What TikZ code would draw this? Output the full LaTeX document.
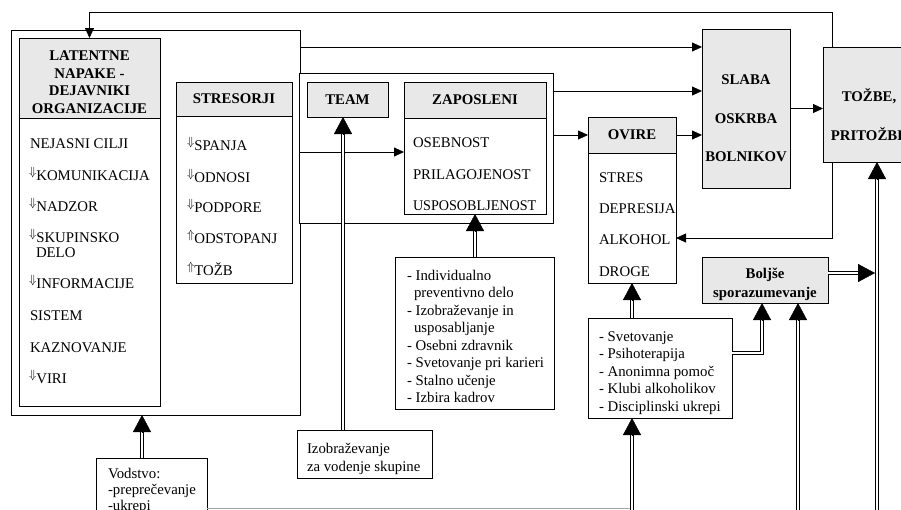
\documentclass[tikz,border=0pt]{standalone}
\usepackage{fontspec}
\setmainfont{Liberation Serif}
\usetikzlibrary{arrows.meta,calc}
\definecolor{hdrfill}{RGB}{232,232,232}
\newcommand\fs{\fontsize{14.8}{17.5}\selectfont}
\newcommand\dnarr{\raisebox{5pt}{\fontsize{12}{12}\selectfont$\Downarrow$}}
\newcommand\uparr{\raisebox{5pt}{\fontsize{12}{12}\selectfont$\Uparrow$}}
% double line ending in a large filled tip, pointing upwards onto #2
\newcommand\dblup[2]{%
  \draw[dline, shorten >=15pt] (#1) -- (#2);
  \draw[dtip] ($(#2)+(0,17)$) -- (#2);}
\begin{document}
\begin{tikzpicture}[x=1pt,y=-1pt,
  every node/.style={font=\fs, inner sep=0pt, outer sep=0pt},
  box/.style={draw, line width=0.8pt, fill=white, anchor=north west},
  hbox/.style={box, fill=hdrfill, font=\fs\bfseries},
  itm/.style={anchor=base west},
  ttl/.style={font=\fs\bfseries},
  sarr/.style={line width=0.8pt, -{Triangle[length=10pt,width=9pt]}},
  dline/.style={line width=0.75pt, double, double distance=1.8pt},
  dtip/.style={line width=0.4pt, -{Triangle[length=17pt,width=18pt]}},
]
\useasboundingbox (0,0) rectangle (901,509);
\clip (0,0) rectangle (901,509);

% organisation frame with latent errors and stressors
\node[box, minimum width=289pt, minimum height=385pt] (out) at (11,30) {};
\node[box, minimum width=141pt, minimum height=368pt] (lat) at (19,38) {};
\node[hbox, minimum width=141pt, minimum height=80pt] (lath) at (19,38) {};
\node[ttl, align=center] (latt) at (89.5,82) {LATENTNE\\NAPAKE -\\DEJAVNIKI\\ORGANIZACIJE};
\node[itm] (l1) at (30,148) {NEJASNI CILJI};
\node[itm] (l2) at (29,180) {\dnarr KOMUNIKACIJA};
\node[itm] (l3) at (29,211) {\dnarr NADZOR};
\node[itm] (l4) at (29,242) {\dnarr SKUPINSKO};
\node[itm] (l5) at (36,257) {DELO};
\node[itm] (l6) at (29,288) {\dnarr INFORMACIJE};
\node[itm] (l7) at (30,320) {SISTEM};
\node[itm] (l8) at (30,352) {KAZNOVANJE};
\node[itm] (l9) at (29,383) {\dnarr VIRI};

\node[box, minimum width=116pt, minimum height=201pt] (str) at (176,82) {};
\node[hbox, minimum width=116pt, minimum height=34pt] (strh) at (176,82) {STRESORJI};
\node[itm] (s1) at (187,150) {\dnarr SPANJA};
\node[itm] (s2) at (187,182) {\dnarr ODNOSI};
\node[itm] (s3) at (187,212) {\dnarr PODPORE};
\node[itm] (s4) at (187,243) {\uparr ODSTOPANJ};
\node[itm] (s5) at (187,275) {\uparr TOŽB};

% team and employees
\node[box, minimum width=254pt, minimum height=150pt] (mid) at (299,73) {};
\node[hbox, minimum width=81pt, minimum height=35pt] (team) at (307,82) {TEAM};
\node[box, minimum width=142pt, minimum height=132pt] (zap) at (404,82) {};
\node[hbox, minimum width=142pt, minimum height=36pt] (zaph) at (404,82) {ZAPOSLENI};
\node[itm] (z1) at (413,147) {OSEBNOST};
\node[itm] (z2) at (413,179) {PRILAGOJENOST};
\node[itm] (z3) at (413,210) {\scalebox{0.955}[1]{USPOSOBLJENOST}};

% obstacles
\node[box, minimum width=88pt, minimum height=166pt] (ovb) at (588,117) {};
\node[hbox, minimum width=88pt, minimum height=36pt] (ovh) at (588,117) {OVIRE};
\node[itm] (o1) at (599,182) {STRES};
\node[itm] (o2) at (599,213) {DEPRESIJA};
\node[itm] (o3) at (599,244) {ALKOHOL};
\node[itm] (o4) at (599,276) {DROGE};

% outcomes
\node[hbox, minimum width=88pt, minimum height=159pt] (slaba) at (702,29) {};
\node[ttl] (sl1) at (746,80) {SLABA};
\node[ttl] (sl2) at (746,119) {OSKRBA};
\node[ttl] (sl3) at (746,157) {BOLNIKOV};
\node[hbox, minimum width=95pt, minimum height=115pt] (tozbe) at (823,47) {};
\node[ttl] (tz1) at (869,96) {TOŽBE,};
\node[ttl] (tz2) at (869,134) {PRITOŽBE};

% measures
\node[box, minimum width=159pt, minimum height=152pt] (ind) at (395,257) {};
\node[itm] (i1) at (407,280) {- Individualno};
\node[itm] (i2) at (414,297.5) {preventivno delo};
\node[itm] (i3) at (407,315) {- Izobraževanje in};
\node[itm] (i4) at (414,332.5) {usposabljanje};
\node[itm] (i5) at (407,350) {- Osebni zdravnik};
\node[itm] (i6) at (407,367.5) {- Svetovanje pri karieri};
\node[itm] (i7) at (407,385) {- Stalno učenje};
\node[itm] (i8) at (407,402.5) {- Izbira kadrov};

\node[box, minimum width=144pt, minimum height=100pt] (sve) at (588,318) {};
\node[itm] (v1) at (599,341) {- Svetovanje};
\node[itm] (v2) at (599,358.5) {- Psihoterapija};
\node[itm] (v3) at (599,376) {- Anonimna pomoč};
\node[itm] (v4) at (599,393.5) {- Klubi alkoholikov};
\node[itm] (v5) at (599,411) {- Disciplinski ukrepi};

\node[box, minimum width=135pt, minimum height=48pt] (izo) at (297,430) {};
\node[itm] (iz1) at (307,453) {Izobraževanje};
\node[itm] (iz2) at (307,471) {za vodenje skupine};

\node[box, minimum width=111pt, minimum height=70pt] (vod) at (96,458) {};
\node[itm] (vd1) at (108,478) {Vodstvo:};
\node[itm] (vd2) at (108,494) {-preprečevanje};
\node[itm] (vd3) at (108,510) {-ukrepi};

\node[hbox, minimum width=126pt, minimum height=46pt] (bolj) at (702,257) {};
\node[ttl] (bj1) at (765,275) {Boljše};
\node[ttl] (bj2) at (765,294) {sporazumevanje};

% single-line flows
\draw[sarr] (out.east |- 0,47) -- (slaba.west |- 0,47);
\draw[sarr] (mid.east |- 0,91) -- (slaba.west |- 0,91);
\draw[sarr] (out.east |- 0,152) -- (zap.west |- 0,152);
\draw[sarr] (mid.east |- ovh.west) -- (ovh.west);
\draw[sarr] (ovh.east) -- (slaba.west |- ovh.east);
\draw[sarr] (slaba.east) -- (tozbe.west |- slaba.east);
\draw[sarr] ([xshift=9pt]tozbe.north west) |- ([yshift=26pt]lat.north) -- (lat.north);
\draw[sarr] ([xshift=9pt]tozbe.south west) |- (ovb.east |- 0,238);

% double-line influences
\coordinate (b1) at (632,520);
\coordinate (b2) at (798,520);
\coordinate (b3) at (877,520);
\coordinate (rail) at (875,273);
\draw[gray!70, line width=0.8pt] (vod.east |- 0,508) -- (b1 |- 0,508);
\dblup{vod.north -| 142,0}{out.south -| 142,0}
\dblup{izo.north -| 343,0}{team.south -| 343,0}
\dblup{ind.north -| zap.south}{zap.south}
\dblup{sve.north -| ovb.south}{ovb.south}
\dblup{b1}{b1 |- sve.south}
\dblup{b2}{b2 |- bolj.south}
\dblup{b3}{b3 |- tozbe.south}
\draw[dline, shorten >=15pt] (sve.east |- 0,353) -| (bolj.south -| 762,0);
\draw[dtip] ($(bolj.south -| 762,0)+(0,17)$) -- (bolj.south -| 762,0);
\draw[dline, shorten >=15pt] (bolj.east |- 0,273) -- (rail);
\draw[dtip] ($(rail)+(-17,0)$) -- (rail);
\end{tikzpicture}
\end{document}
